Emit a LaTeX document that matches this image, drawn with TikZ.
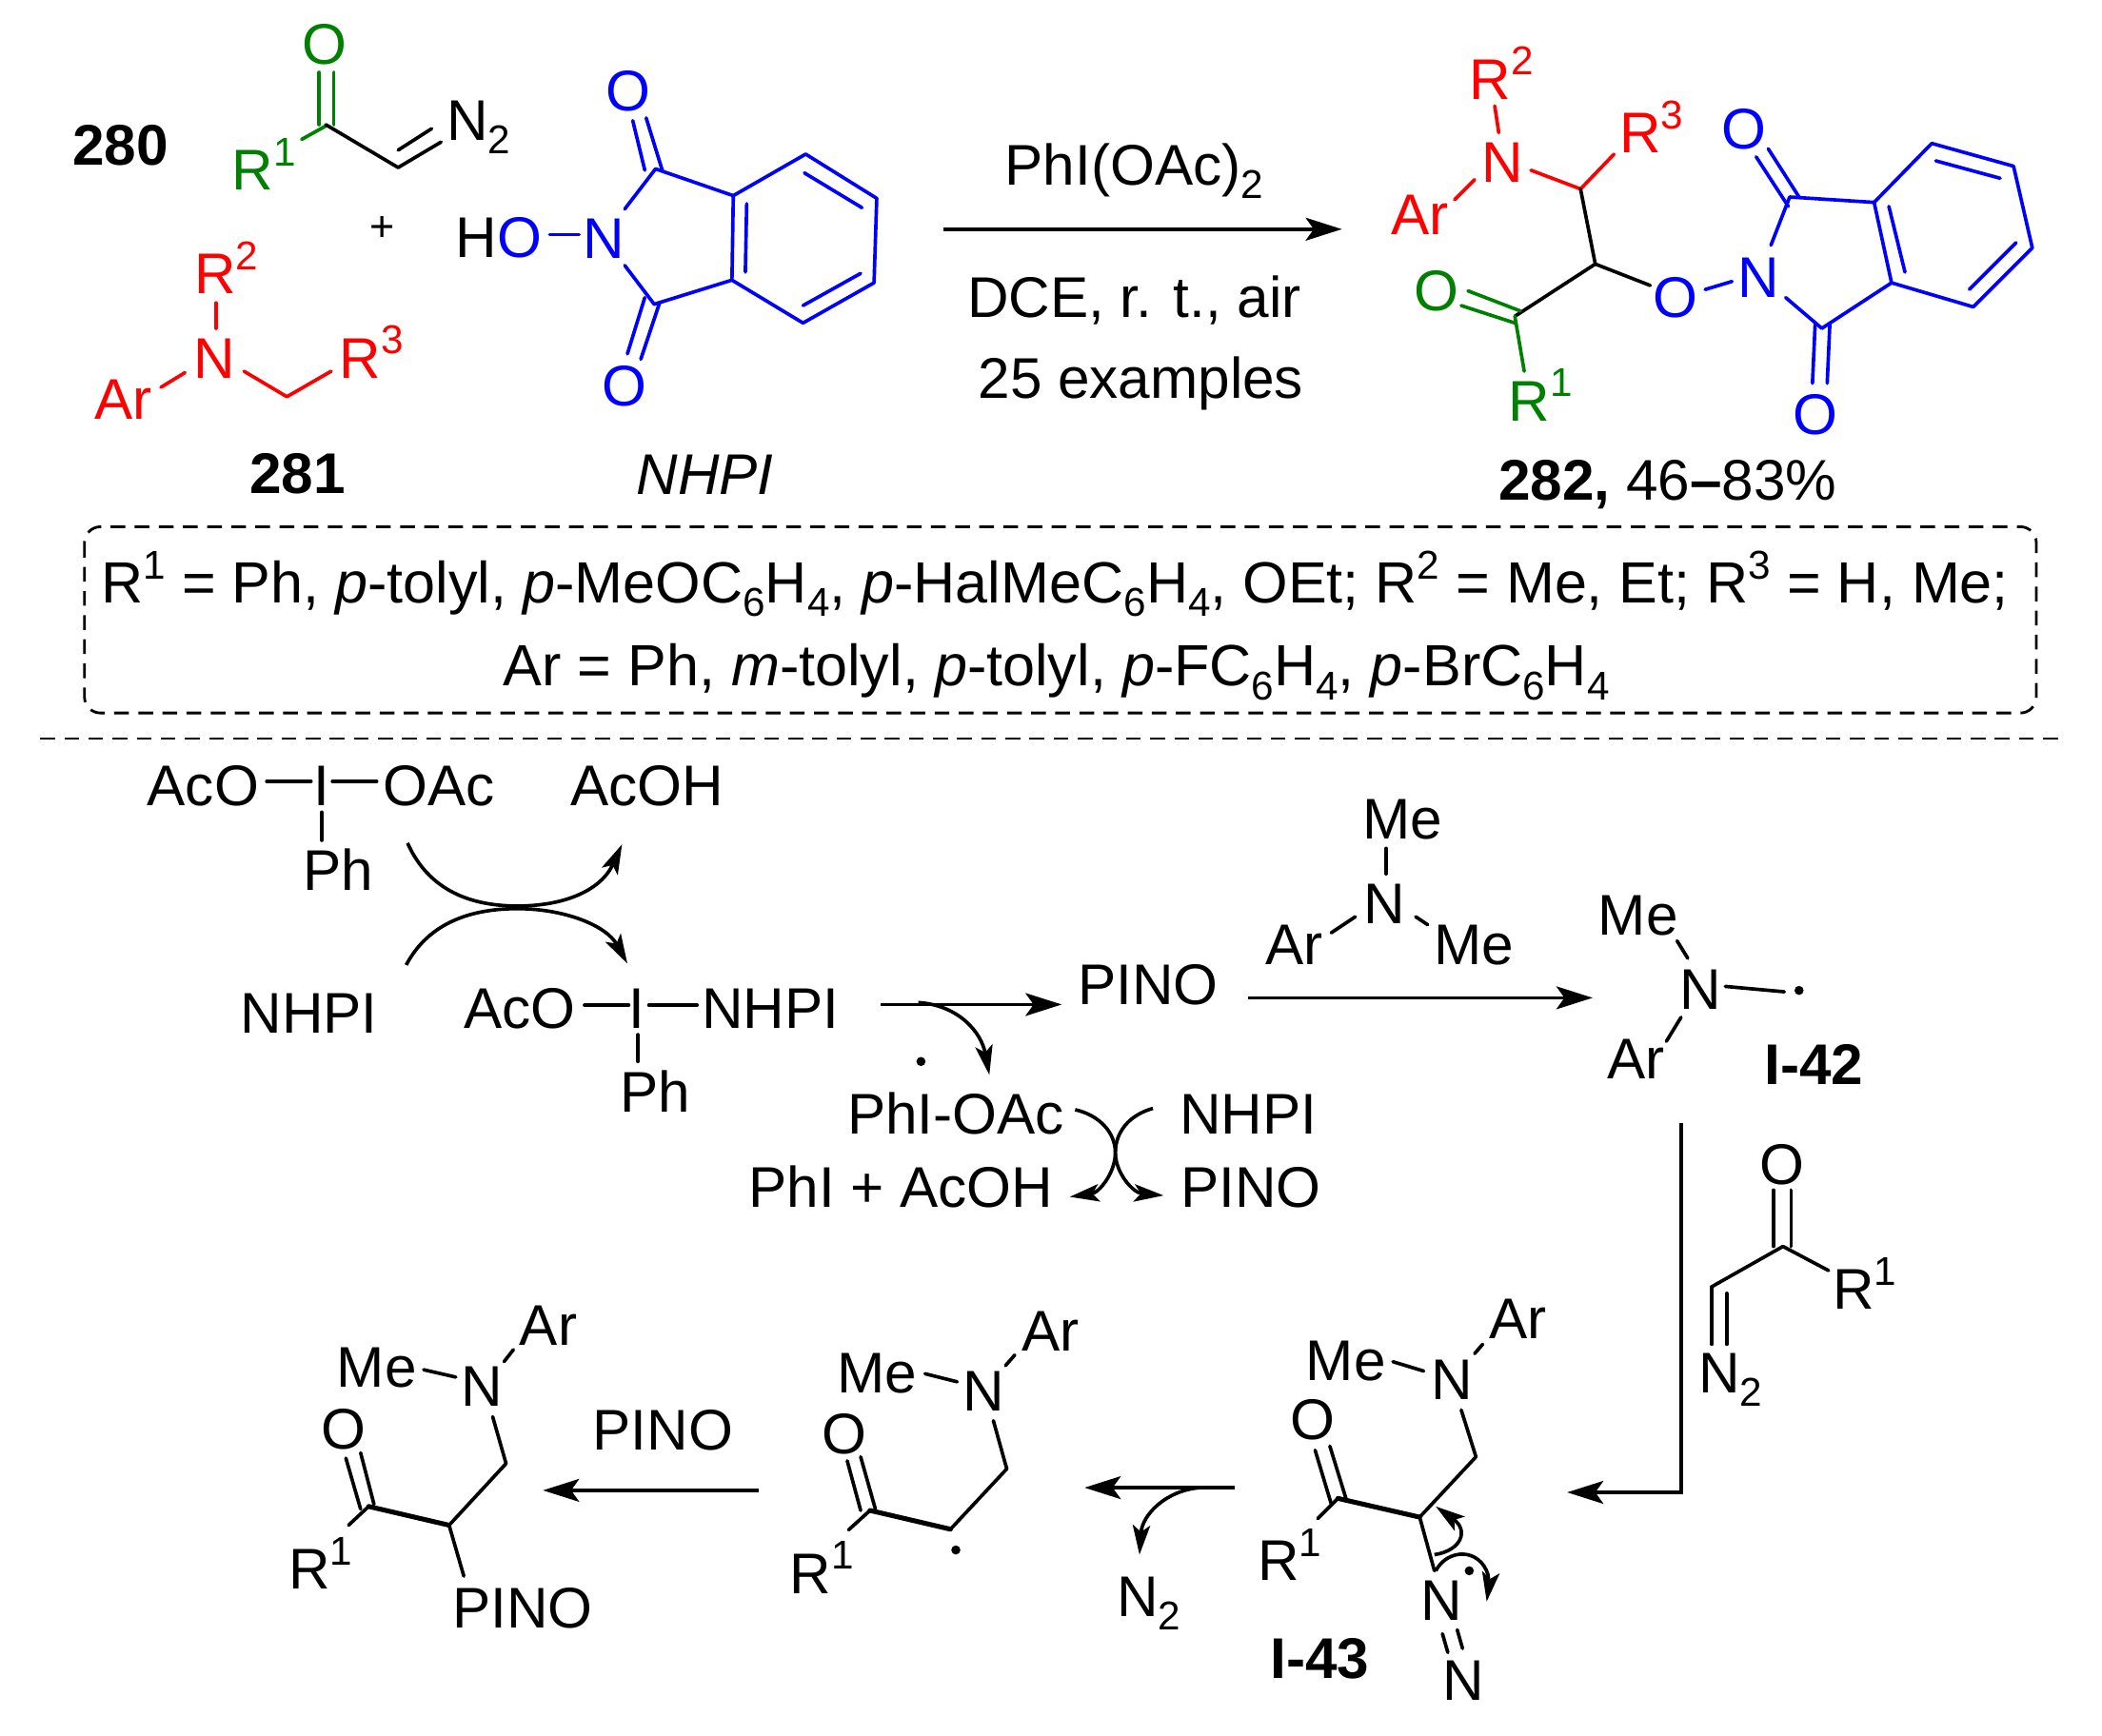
\documentclass[tikz,border=0pt]{standalone}
\usepackage{fontspec}
\setmainfont{Liberation Sans}
\usetikzlibrary{arrows.meta}
\definecolor{cgreen}{RGB}{0,128,0}
\definecolor{cred}{RGB}{255,0,0}
\definecolor{cblue}{RGB}{0,0,255}
\newcommand{\Sp}[1]{\raisebox{9pt}{\fontsize{15}{15}\selectfont #1}}
\newcommand{\Sb}[1]{\raisebox{-5pt}{\fontsize{15}{15}\selectfont #1}}
\newcommand{\lab}[5][black]{\node[atomlab,text=#1] (#2) at (#3,#4) {#5};}
\newcommand{\bnd}[3][black]{\draw[bondline,draw=#1] #2 -- #3;}
\newcommand{\bnt}[3][black]{\draw[bondline,line width=1.8pt,draw=#1] #2 -- #3;}
\newcommand{\biglist}{\fontsize{21.7}{25}\selectfont}
\tikzset{
  atomlab/.style={anchor=base,inner sep=0pt,outer sep=0pt,font=\fontsize{21.4}{25}\selectfont},
  bondline/.style={line width=1.3pt,line cap=round,line join=round},
  bigarrow/.style={line width=1.3pt,-{Stealth[length=13.5pt,width=8.5pt,inset=3pt]}},
  curvearrow/.style={line width=1.3pt,-{Stealth[length=11pt,width=6.5pt,inset=2.5pt]}},
  radicaldot/.style={circle,fill=black,inner sep=0pt,minimum size=3.4pt}
}
\begin{document}
\begin{tikzpicture}[x=0.5pt,y=-0.5pt]
\useasboundingbox (0,0) rectangle (1568,1295.3);
% ---- reactant 280
\lab{n280}{90}{123.5}{\bfseries 280}
\lab[cgreen]{o280}{242}{48}{O}
\lab[cgreen]{r280}{197}{142}{R\Sp{1}}
\lab{n2a}{357}{105}{N\Sb{2}}
\bnd[cgreen]{(238,54)}{(238,93)}
\bnd[cgreen]{(249,54)}{(249,93)}
\bnd[cgreen]{(243,94)}{(225,104)}
\bnd{(243,93)}{(297,125)}
\bnd{(297,125)}{(329,106)}
\bnd{(297,112)}{(322,96)}
\node[atomlab,font=\fontsize{16}{16}\selectfont,anchor=center] (plus) at (285,171) {+};
% ---- reactant 281
\lab[cred]{r2a}{169}{219}{R\Sp{2}}
\lab[cred]{n281}{160}{282}{N}
\lab[cred]{ar281}{92}{313}{Ar}
\lab[cred]{r3a}{277}{282}{R\Sp{3}}
\bnd[cred]{(161,226)}{(161,245)}
\bnd[cred]{(138,278)}{(120,289)}
\draw[bondline,draw=cred] (182,277) -- (214,296) -- (247,277);
\lab{l281}{222}{368.5}{\bfseries 281}
% ---- NHPI
\node[atomlab,anchor=base east] (hh) at (371,192) {H};
\node[atomlab,anchor=base west,text=cblue] (hoo) at (371,192) {O};
\lab[cblue]{nn}{450.5}{193}{N}
\lab[cblue]{ot}{469}{82.5}{O}
\lab[cblue]{ob}{466}{303}{O}
\bnd[cblue]{(410,175)}{(432,175)}
\draw[bondline,draw=cblue] (466,156) -- (489,126) -- (547,146) -- (601,115) -- (654,148) -- (652,211) -- (599,241) -- (546,209) -- (488,227) -- (466,198);
\bnd[cblue]{(547,146)}{(546,209)}
\bnd[cblue]{(557,152)}{(556,203)}
\bnd[cblue]{(600,129)}{(643,155)}
\bnd[cblue]{(599,228)}{(642,204)}
\bnd[cblue]{(472,90)}{(481,127)}
\bnd[cblue]{(482,88)}{(494,127)}
\bnd[cblue]{(468,264)}{(481,222)}
\bnd[cblue]{(478,268)}{(492,226)}
\lab{nhpi}{526}{369}{\itshape NHPI}
% ---- main arrow
\coordinate (ma1) at (704,171);
\coordinate (ma2) at (1001,171);
\draw[bigarrow] (ma1) -- (ma2);
\lab{cond1}{846}{138}{PhI(OAc)\Sb{2}}
\lab{cond2}{846}{237}{DCE, r. t., air}
\lab{cond3}{851}{297}{25 examples}
% ---- product 282
\lab[cred]{r2p}{1120}{74}{R\Sp{2}}
\lab[cred]{np}{1121}{136}{N}
\lab[cred]{arp}{1059}{175}{Ar}
\lab[cred]{r3p}{1232}{114}{R\Sp{3}}
\bnd[cred]{(1115,79)}{(1118,99)}
\bnd[cred]{(1100,134)}{(1085,149)}
\draw[bondline,draw=cred] (1142,127) -- (1179,141) -- (1204,115);
\bnd{(1179,141)}{(1190,197)}
\draw[bondline] (1130,236) -- (1190,197) -- (1231,213);
\lab[cblue]{opp}{1250}{237}{O}
\bnd[cblue]{(1272,216)}{(1292,210)}
\lab[cblue]{npp}{1311.5}{222}{N}
\lab[cgreen]{ogp}{1071.5}{232}{O}
\bnd[cgreen]{(1095,217)}{(1134,232)}
\bnd[cgreen]{(1090,228)}{(1130,241)}
\bnd[cgreen]{(1130,236)}{(1137,277)}
\lab[cgreen]{r1p}{1149}{314}{R\Sp{1}}
\draw[bondline,draw=cblue] (1321,183) -- (1335,147) -- (1398,151) -- (1441,107) -- (1502,124) -- (1516,185) -- (1472,229) -- (1411,211) -- (1359,245) -- (1332,222);
\bnd[cblue]{(1398,151)}{(1411,211)}
\bnd[cblue]{(1409,154)}{(1421,203)}
\bnd[cblue]{(1444,120)}{(1492,133)}
\bnd[cblue]{(1504,181)}{(1469,216)}
\bnd[cblue]{(1310,117)}{(1334,154)}
\bnd[cblue]{(1319,111)}{(1342,147)}
\bnd[cblue]{(1352,286)}{(1354,242)}
\bnd[cblue]{(1363,286)}{(1365,241)}
\lab[cblue]{otp}{1301}{111}{O}
\lab[cblue]{obp}{1354.5}{324}{O}
\node[atomlab,anchor=base west] (l282) at (1118,373) {{\bfseries 282,} 46{\bfseries –}83\%};
% ---- conditions box and divider
\draw[line width=1pt,dash pattern=on 5.5pt off 3.5pt,rounded corners=6pt] (63,393) rectangle (1519,532);
\lab{rlist1}{787}{450}{\biglist R\Sp{1} = Ph, \textit{p}-tolyl, \textit{p}-MeOC\Sb{6}H\Sb{4}, \textit{p}-HalMeC\Sb{6}H\Sb{4}, OEt; R\Sp{2} = Me, Et; R\Sp{3} = H, Me;}
\lab{rlist2}{788}{512}{\biglist Ar = Ph, \textit{m}-tolyl, \textit{p}-tolyl, \textit{p}-FC\Sb{6}H\Sb{4}, \textit{p}-BrC\Sb{6}H\Sb{4}}
\coordinate (div1) at (30,551);
\coordinate (div2) at (1535,551);
\draw[line width=1pt,dash pattern=on 5.5pt off 3.5pt] (div1) -- (div2);
% ---- PhI(OAc)2
\lab{aco1}{151.5}{601}{AcO}
\lab{ia}{240}{601}{I}
\lab{oac1}{327.5}{601}{OAc}
\lab{ph1}{252}{664}{Ph}
\lab{acoh1}{482.5}{601}{AcOH}
\bnd{(199,583)}{(232,583)}
\bnd{(248,583)}{(281,583)}
\bnd{(240,606)}{(240,627)}
\coordinate (c1a) at (304,629);
\coordinate (c1b) at (386,676);
\coordinate (c1c) at (464,630);
\coordinate (c2a) at (303,720);
\coordinate (c2b) at (386,678);
\coordinate (c2c) at (468,719);
\draw[curvearrow] (c1a) .. controls (320,665) and (352,676) .. (c1b) .. controls (420,676) and (448,665) .. (c1c);
\draw[curvearrow] (c2a) .. controls (320,688) and (352,678) .. (c2b) .. controls (420,678) and (452,690) .. (c2c);
\lab{nhpia}{230.5}{771}{NHPI}
% ---- AcO-I-NHPI
\lab{aco2}{387.5}{767}{AcO}
\lab{ib}{475}{767}{I}
\lab{nhpib}{574.5}{767}{NHPI}
\lab{ph2}{488.5}{829.5}{Ph}
\bnd{(436,750)}{(469,750)}
\bnd{(484,750)}{(520,750)}
\bnd{(476,772)}{(476,792)}
\coordinate (a2s) at (657,749.5);
\coordinate (a2e) at (792,749.5);
\draw[bigarrow] (a2s) -- (a2e);
\coordinate (c3a) at (685,748);
\coordinate (c3b) at (738,802);
\draw[curvearrow] (c3a) .. controls (715,750) and (732,770) .. (c3b);
\node[radicaldot] (dot1) at (687,792) {};
\lab{phioac}{713}{846}{PhI-OAc}
\lab{phiacoh}{672}{901}{PhI + AcOH}
\coordinate (s1a) at (802,828);
\coordinate (s1b) at (832,860);
\coordinate (s1c) at (798,893);
\coordinate (s2a) at (860,827);
\coordinate (s2c) at (868,892);
\draw[curvearrow] (s1a) .. controls (820,832) and (832,845) .. (s1b) .. controls (832,875) and (820,890) .. (s1c);
\draw[curvearrow] (s2a) .. controls (842,832) and (832,845) .. (s1b) .. controls (832,875) and (845,890) .. (s2c);
\lab{nhpic}{931}{846}{NHPI}
\lab{pinoa}{933}{901}{PINO}
\lab{pinob}{856.5}{749.5}{PINO}
% ---- amine arrow
\coordinate (a3s) at (931,744.5);
\coordinate (a3e) at (1188,744.5);
\draw[bigarrow] (a3s) -- (a3e);
\lab{mea}{1046}{626}{Me}
\lab{nam}{1033}{689}{N}
\lab{ara}{965.5}{720}{Ar}
\lab{meb}{1099.5}{720}{Me}
\bnd{(1034,633)}{(1034,652)}
\bnd{(1011,684)}{(993,696)}
\bnd{(1056,684)}{(1065,690)}
% ---- I-42
\lab{mec}{1222}{698}{Me}
\lab{nrad}{1268.5}{753}{N}
\lab{arc}{1220.5}{805}{Ar}
\lab{i42}{1353}{809}{\bfseries I-42}
\bnd{(1251,702)}{(1259,715)}
\bnd{(1287,736)}{(1331,740)}
\bnd{(1254,759)}{(1243,777)}
\node[radicaldot] (dot2) at (1342,739) {};
% ---- elbow arrow
\coordinate (a4s) at (1254,838);
\coordinate (a4m) at (1254,1113.5);
\coordinate (a4e) at (1169,1113.5);
\draw[bigarrow] (a4s) -- (a4m) -- (a4e);
% ---- diazoketone
\lab{odz}{1329.5}{884}{O}
\lab{r1dz}{1391}{977}{R\Sp{1}}
\lab{n2dz}{1291}{1039}{N\Sb{2}}
\bnd{(1323,888)}{(1323,930)}
\bnd{(1336,888)}{(1336,930)}
\bnd{(1330,930)}{(1277,960)}
\bnd{(1330,930)}{(1364,948)}
\bnd{(1277,960)}{(1277,1003)}
\bnd{(1288,965)}{(1288,1003)}
% ---- I-43
\lab{med}{1004}{1030}{Me}
\lab{nd}{1083}{1044}{N}
\lab{ard}{1132.5}{998.5}{Ar}
\lab{od}{979.5}{1074}{O}
\lab{r1d}{962}{1179.5}{R\Sp{1}}
\lab{nd2}{1075}{1209}{N}
\lab{nd3}{1091.5}{1269}{N}
\lab{i43}{984.5}{1252}{\bfseries I-43}
\bnd{(1039,1016)}{(1062,1023)}
\bnd{(1106,1003)}{(1100,1010)}
\draw[bondline] (1090,1052) -- (1101,1087) -- (1059,1132);
\bnt{(1059,1132)}{(998,1118)}
\bnd{(981,1082)}{(993,1122)}
\bnd{(992,1079)}{(1004,1118)}
\bnd{(998,1118)}{(983,1133)}
\bnd{(1059,1132)}{(1070,1172)}
\bnd{(1076,1219)}{(1080,1233)}
\bnd{(1087,1216)}{(1091,1230)}
\node[radicaldot] (dot3) at (1096,1172) {};
\coordinate (e1a) at (1070,1160);
\coordinate (e1b) at (1071,1124);
\coordinate (e2a) at (1071,1172);
\coordinate (e2b) at (1109,1195);
\draw[curvearrow] (e1a) .. controls (1090,1157) and (1096,1142) .. (e1b);
\draw[curvearrow] (e2a) .. controls (1080,1155) and (1104,1155) .. (1110,1175) .. controls (1111,1182) and (1110,1188) .. (e2b);
% ---- N2 loss
\coordinate (a5s) at (921,1110);
\coordinate (a5e) at (809,1110);
\draw[bigarrow] (a5s) -- (a5e);
\coordinate (c5a) at (895,1110);
\coordinate (c5b) at (850,1160);
\draw[curvearrow] (c5a) .. controls (870,1112) and (852,1130) .. (c5b);
\lab{n2e}{857}{1206}{N\Sb{2}}
% ---- radical
\lab{mee}{654}{1039}{Me}
\lab{ne}{733.5}{1053}{N}
\lab{are}{783.5}{1008}{Ar}
\lab{oe}{629.5}{1084.5}{O}
\lab{r1e}{613}{1189}{R\Sp{1}}
\bnd{(690,1025)}{(714,1031)}
\bnd{(757,1011)}{(750,1019)}
\draw[bondline] (741,1060) -- (751,1096) -- (709,1141);
\bnt{(709,1141)}{(649,1127)}
\bnd{(632,1090)}{(642,1127)}
\bnd{(642,1087)}{(653,1126)}
\bnd{(649,1127)}{(633,1141.5)}
\node[radicaldot] (dot4) at (713,1156.5) {};
% ---- PINO arrow
\coordinate (a6s) at (566,1112);
\coordinate (a6e) at (405,1112);
\draw[bigarrow] (a6s) -- (a6e);
\lab{pinoc}{494.5}{1082}{PINO}
% ---- final
\lab{mef}{281}{1035}{Me}
\lab{nf}{359.5}{1049}{N}
\lab{arf}{409}{1004}{Ar}
\lab{of}{256.5}{1081}{O}
\lab{r1f}{239}{1185.5}{R\Sp{1}}
\lab{pinod}{390}{1215}{PINO}
\bnd{(316,1022)}{(340,1027.5)}
\bnd{(383,1007)}{(376,1016)}
\draw[bondline] (367.5,1057) -- (377.5,1092) -- (335,1138);
\bnt{(335,1138)}{(275,1124)}
\bnd{(258,1088)}{(269,1126)}
\bnd{(269,1084)}{(279,1122.5)}
\bnd{(275,1124)}{(260,1138)}
\bnd{(335,1138)}{(346,1176)}
\end{tikzpicture}
\end{document}
